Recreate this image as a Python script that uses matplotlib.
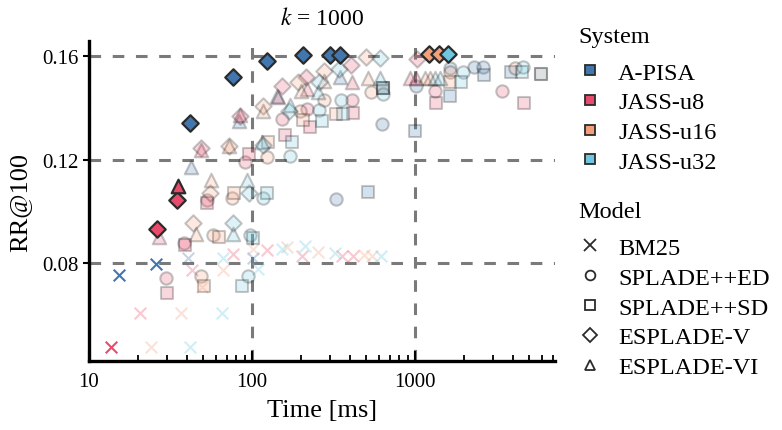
"""Time vs RR@100 at k = 1000 for each index system / model pair."""

import matplotlib

matplotlib.use("Agg")
import matplotlib.pyplot as plt
from matplotlib.lines import Line2D
from matplotlib.ticker import FixedLocator, LogLocator, NullFormatter

plt.rcParams["font.family"] = ["Liberation Serif", "DejaVu Serif"]
plt.rcParams["mathtext.fontset"] = "stix"

SYSTEMS = ["A-PISA", "JASS-u8", "JASS-u16", "JASS-u32"]
MODELS = ["BM25", "SPLADE++ED", "SPLADE++SD", "ESPLADE-V", "ESPLADE-VI"]
COLORS = ["#4277ae", "#e84c6c", "#f29f7a", "#6fc6de"]
MARKERS = ["x", "o", "s", "D", "^"]

# rows: (model, time in ms, RR@100, on the frontier)
APISA = [
    ("BM25", 15.2, 0.0755, True), ("BM25", 25.8, 0.0796, True),
    ("BM25", 40.7, 0.0820, False), ("BM25", 101, 0.0820, False),
    ("ESPLADE-V", 41.7, 0.1340, True), ("ESPLADE-V", 76.1, 0.1520, True),
    ("ESPLADE-V", 124, 0.1581, True), ("ESPLADE-V", 206, 0.1605, True),
    ("ESPLADE-V", 301, 0.1605, True), ("ESPLADE-V", 347, 0.1605, True),
    ("ESPLADE-VI", 42.3, 0.1171, False), ("ESPLADE-VI", 83.6, 0.1350, False),
    ("ESPLADE-VI", 143, 0.1446, False), ("ESPLADE-VI", 347, 0.1519, False),
    ("SPLADE++ED", 327, 0.1048, False), ("SPLADE++ED", 625, 0.1337, False),
    ("SPLADE++ED", 1014, 0.1486, False), ("SPLADE++ED", 1639, 0.1555, False),
    ("SPLADE++ED", 2301, 0.1559, False), ("SPLADE++ED", 2602, 0.1559, False),
    ("SPLADE++SD", 517, 0.1077, False), ("SPLADE++SD", 1000, 0.1309, False),
    ("SPLADE++SD", 636, 0.1477, False), ("SPLADE++SD", 1639, 0.1447, False),
    ("SPLADE++SD", 2624, 0.1527, False), ("SPLADE++SD", 3865, 0.1537, False),
]

JASS_U8 = [
    ("BM25", 13.6, 0.0478, True), ("BM25", 20.6, 0.0609, False),
    ("BM25", 42.9, 0.0775, False), ("BM25", 76.8, 0.0836, False),
    ("BM25", 123, 0.0853, False), ("BM25", 202, 0.0830, False),
    ("BM25", 355, 0.0830, False), ("BM25", 418, 0.0827, False),
    ("ESPLADE-V", 26.0, 0.0933, True), ("ESPLADE-V", 34.5, 0.1045, True),
    ("ESPLADE-V", 48.7, 0.1245, False), ("ESPLADE-V", 84.4, 0.1370, False),
    ("ESPLADE-V", 152, 0.1485, False), ("ESPLADE-V", 214, 0.1518, False),
    ("ESPLADE-V", 403, 0.1566, False), ("ESPLADE-V", 1024, 0.1587, False),
    ("ESPLADE-VI", 35.0, 0.1100, True), ("ESPLADE-VI", 27.0, 0.0901, False),
    ("ESPLADE-VI", 48.7, 0.1237, False), ("ESPLADE-VI", 84.4, 0.1372, False),
    ("ESPLADE-VI", 145, 0.1441, False), ("ESPLADE-VI", 217, 0.1473, False),
    ("ESPLADE-VI", 409, 0.1499, False), ("ESPLADE-VI", 931, 0.1515, False),
    ("ESPLADE-VI", 1007, 0.1515, False),
    ("SPLADE++ED", 29.7, 0.0742, False), ("SPLADE++ED", 38.3, 0.0879, False),
    ("SPLADE++ED", 52.7, 0.1045, False), ("SPLADE++ED", 90.6, 0.1192, False),
    ("SPLADE++ED", 152, 0.1359, False), ("SPLADE++ED", 217, 0.1394, False),
    ("SPLADE++ED", 409, 0.1431, False), ("SPLADE++ED", 1327, 0.1464, False),
    ("SPLADE++ED", 3404, 0.1464, False),
    ("SPLADE++SD", 30.2, 0.0684, False), ("SPLADE++SD", 38.8, 0.0871, False),
    ("SPLADE++SD", 52.7, 0.1033, False), ("SPLADE++SD", 96.2, 0.1222, False),
    ("SPLADE++SD", 159, 0.1297, False), ("SPLADE++SD", 227, 0.1327, False),
    ("SPLADE++SD", 415, 0.1380, False), ("SPLADE++SD", 1340, 0.1418, False),
    ("SPLADE++SD", 4664, 0.1418, False),
]

JASS_U16 = [
    ("BM25", 24.0, 0.0477, False), ("BM25", 36.4, 0.0609, False),
    ("BM25", 49.1, 0.0709, False), ("BM25", 66.7, 0.0775, False),
    ("BM25", 101, 0.0855, False), ("BM25", 163, 0.0862, False),
    ("BM25", 255, 0.0843, False), ("BM25", 487, 0.0832, False),
    ("BM25", 542, 0.0830, False),
    ("ESPLADE-V", 1210, 0.1606, True), ("ESPLADE-V", 1398, 0.1606, True),
    ("ESPLADE-V", 43.3, 0.0956, False), ("ESPLADE-V", 55.3, 0.1070, False),
    ("ESPLADE-V", 72.6, 0.1254, False), ("ESPLADE-V", 117, 0.1408, False),
    ("ESPLADE-V", 192, 0.1499, False), ("ESPLADE-V", 274, 0.1543, False),
    ("ESPLADE-V", 500, 0.1595, False),
    ("ESPLADE-VI", 45.4, 0.0913, False), ("ESPLADE-VI", 55.8, 0.1123, False),
    ("ESPLADE-VI", 72.6, 0.1252, False), ("ESPLADE-VI", 117, 0.1389, False),
    ("ESPLADE-VI", 199, 0.1466, False), ("ESPLADE-VI", 274, 0.1505, False),
    ("ESPLADE-VI", 517, 0.1514, False), ("ESPLADE-VI", 1152, 0.1515, False),
    ("ESPLADE-VI", 1236, 0.1515, False),
    ("SPLADE++ED", 48.4, 0.0753, False), ("SPLADE++ED", 57.9, 0.0910, False),
    ("SPLADE++ED", 75.4, 0.1052, False), ("SPLADE++ED", 124, 0.1212, False),
    ("SPLADE++ED", 197, 0.1389, False), ("SPLADE++ED", 274, 0.1430, False),
    ("SPLADE++ED", 539, 0.1461, False), ("SPLADE++ED", 1639, 0.1537, False),
    ("SPLADE++ED", 4108, 0.1553, False),
    ("SPLADE++SD", 51.0, 0.0714, False), ("SPLADE++SD", 63.0, 0.0903, False),
    ("SPLADE++SD", 77.5, 0.1070, False), ("SPLADE++SD", 126, 0.1267, False),
    ("SPLADE++SD", 205, 0.1353, False), ("SPLADE++SD", 329, 0.1376, False),
    ("SPLADE++SD", 636, 0.1477, False), ("SPLADE++SD", 1639, 0.1501, False),
    ("SPLADE++SD", 5903, 0.1531, False),
]

JASS_U32 = [
    ("BM25", 41.7, 0.0477, False), ("BM25", 65.2, 0.0609, False),
    ("BM25", 66.7, 0.0820, False), ("BM25", 109, 0.0778, False),
    ("BM25", 152, 0.0855, False), ("BM25", 212, 0.0866, False),
    ("BM25", 323, 0.0840, False), ("BM25", 620, 0.0830, False),
    ("ESPLADE-V", 1587, 0.1606, True),
    ("ESPLADE-V", 76.1, 0.0956, False), ("ESPLADE-V", 96.2, 0.1070, False),
    ("ESPLADE-V", 116, 0.1257, False), ("ESPLADE-V", 169, 0.1389, False),
    ("ESPLADE-V", 257, 0.1499, False), ("ESPLADE-V", 343, 0.1550, False),
    ("ESPLADE-V", 606, 0.1591, False),
    ("ESPLADE-VI", 76.8, 0.0913, False), ("ESPLADE-VI", 92.5, 0.1123, False),
    ("ESPLADE-VI", 115, 0.1267, False), ("ESPLADE-VI", 171, 0.1411, False),
    ("ESPLADE-VI", 252, 0.1462, False), ("ESPLADE-VI", 610, 0.1514, False),
    ("ESPLADE-VI", 1327, 0.1515, False), ("ESPLADE-VI", 1424, 0.1515, False),
    ("SPLADE++ED", 94.9, 0.0753, False), ("SPLADE++ED", 97.2, 0.0910, False),
    ("SPLADE++ED", 117, 0.1051, False), ("SPLADE++ED", 171, 0.1213, False),
    ("SPLADE++ED", 257, 0.1390, False), ("SPLADE++ED", 350, 0.1430, False),
    ("SPLADE++ED", 632, 0.1455, False), ("SPLADE++ED", 1962, 0.1537, False),
    ("SPLADE++ED", 4579, 0.1556, False),
    ("SPLADE++SD", 86.5, 0.0714, False), ("SPLADE++SD", 101, 0.0898, False),
    ("SPLADE++SD", 123, 0.1070, False), ("SPLADE++SD", 175, 0.1267, False),
    ("SPLADE++SD", 268, 0.1350, False), ("SPLADE++SD", 363, 0.1376, False),
    ("SPLADE++SD", 636, 0.1477, False), ("SPLADE++SD", 1915, 0.1499, False),
    ("SPLADE++SD", 4515, 0.1537, False), ("SPLADE++SD", 5903, 0.1531, False),
]

RUNS = [APISA, JASS_U8, JASS_U16, JASS_U32]
SIZES = {"x": 70, "o": 80, "s": 70, "D": 70, "^": 95}
FADE = 0.22
INK = "#2b2b2b"


def draw(ax, rows, color, best):
    for model, marker in zip(MODELS, MARKERS):
        pts = [(t, rr) for m, t, rr, b in rows if m == model and b == best]
        if not pts:
            continue
        xs, ys = zip(*pts)
        if marker == "x":
            ax.scatter(xs, ys, s=SIZES[marker], marker="x", color=color,
                       linewidths=1.5, alpha=1.0 if best else 0.3,
                       zorder=4 if best else 2)
        elif best:
            ax.scatter(xs, ys, s=SIZES[marker], marker=marker, facecolor=color,
                       edgecolor=INK, linewidths=1.6, zorder=4)
        else:
            ax.scatter(xs, ys, s=SIZES[marker], marker=marker, facecolor=color,
                       edgecolor="black", linewidths=1.5, alpha=FADE, zorder=2)


fig = plt.figure(figsize=(7.82, 4.31), dpi=100)
ax = fig.add_axes([0.1138, 0.160, 0.5960, 0.7425])

for rows, color in zip(RUNS, COLORS):
    draw(ax, rows, color, best=False)
for rows, color in zip(RUNS, COLORS):
    draw(ax, rows, color, best=True)

ax.set_xscale("log")
ax.set_xlim(10, 7200)
ax.set_ylim(0.0423, 0.1658)
ax.xaxis.set_major_locator(FixedLocator([10, 100, 1000]))
ax.xaxis.set_major_formatter(matplotlib.ticker.FixedFormatter(["10", "100", "1000"]))
ax.xaxis.set_minor_locator(LogLocator(base=10, subs=range(2, 10)))
ax.xaxis.set_minor_formatter(NullFormatter())
ax.yaxis.set_major_locator(FixedLocator([0.08, 0.12, 0.16]))
ax.yaxis.set_major_formatter(matplotlib.ticker.FormatStrFormatter("%.2f"))

ax.grid(True, which="major", color="#7a7a7a", linestyle=(0, (3.8, 3.8)),
        linewidth=2.2, zorder=0)
ax.set_axisbelow(True)
for s in ("top", "right"):
    ax.spines[s].set_visible(False)
for s in ("left", "bottom"):
    ax.spines[s].set_linewidth(2.4)
    ax.spines[s].set_zorder(5)

ax.tick_params(axis="x", which="major", direction="in", length=7, width=1.5,
               labelsize=15, pad=8)
ax.tick_params(axis="x", which="minor", direction="in", length=4, width=1.3)
ax.tick_params(axis="y", which="major", direction="out", length=4, width=1.5,
               labelsize=15)

ax.set_xlabel("Time [ms]", fontsize=19, labelpad=6)
ax.set_ylabel("RR@100", fontsize=19, labelpad=8)
ax.set_title("$k$ = 1000", fontsize=17, pad=12)

system_handles = [
    Line2D([], [], linestyle="none", marker="s", markersize=7,
           markerfacecolor=c, markeredgecolor=INK, markeredgewidth=1.3, label=name)
    for name, c in zip(SYSTEMS, COLORS)
]
model_handles = [
    Line2D([], [], linestyle="none", marker=m, markersize=7 if m != "x" else 8,
           markerfacecolor="none", markeredgecolor=INK, markeredgewidth=1.3,
           label=name)
    for name, m in zip(MODELS, MARKERS)
]

# legend headings are placed by hand so the gap to the first entry is wider
fig.text(0.739, 0.912, "System", fontsize=17.5, va="center", ha="left")
fig.text(0.739, 0.506, "Model", fontsize=17.5, va="center", ha="left")

leg_kw = dict(frameon=False, fontsize=17.5, handlelength=1.0, handletextpad=0.65,
              labelspacing=0.32, borderaxespad=0.0, borderpad=0.0)
fig.legend(handles=system_handles, loc="upper left",
           bbox_to_anchor=(0.739, 0.855), **leg_kw)
fig.legend(handles=model_handles, loc="upper left",
           bbox_to_anchor=(0.739, 0.448), **leg_kw)

fig.savefig("out.png", dpi=100)
